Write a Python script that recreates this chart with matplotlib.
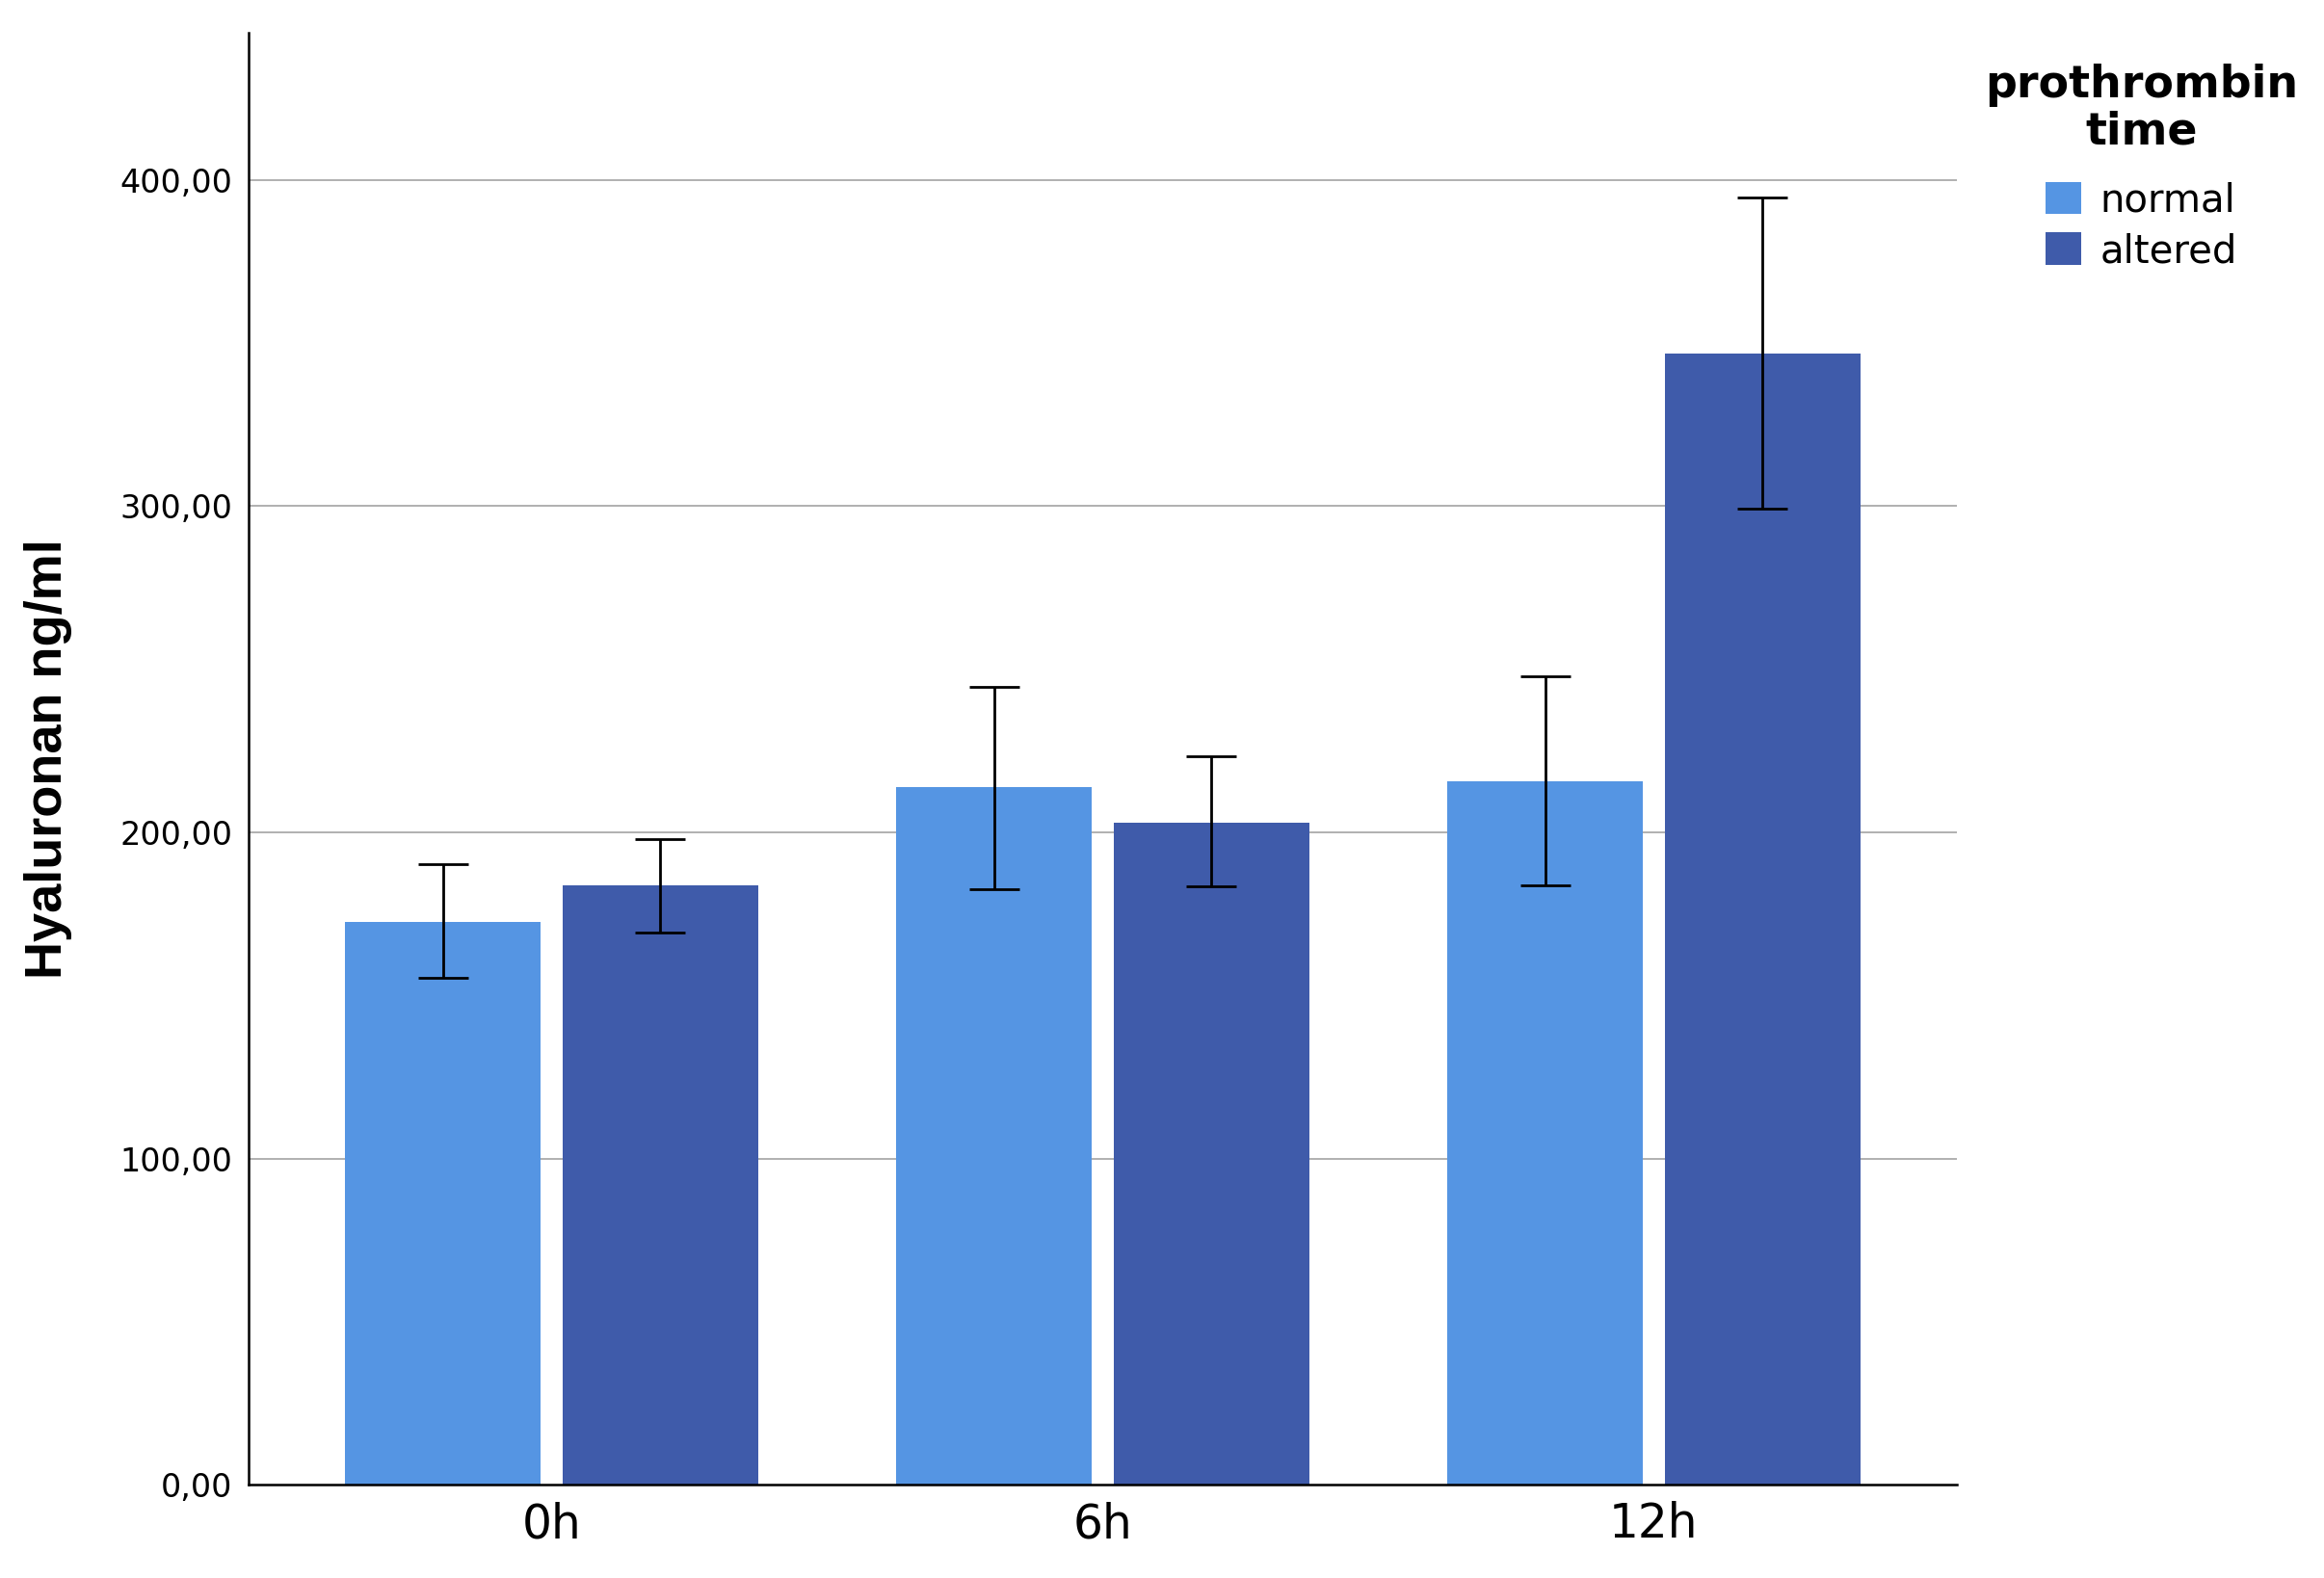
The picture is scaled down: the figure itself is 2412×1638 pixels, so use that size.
import numpy as np
import matplotlib
matplotlib.use('Agg')
import matplotlib.pyplot as plt

# data
groups = ['0h', '6h', '12h']
series = ['normal', 'altered']
normal_mean = [172.5, 213.8, 215.7]
normal_lo = [155.3, 182.5, 183.9]
normal_hi = [190.2, 244.7, 247.9]
altered_mean = [183.9, 203.0, 346.9]
altered_lo = [169.4, 183.4, 299.2]
altered_hi = [198.0, 223.4, 394.5]
yticks = [0, 100, 200, 300, 400]
ytick_labels = ['0,00', '100,00', '200,00', '300,00', '400,00']

colors = ['#5595E3', '#3F5BAA']


def bars_with_err(ax, x, mean, lo, hi, color, label):
    mean = np.array(mean)
    err = np.vstack([mean - np.array(lo), np.array(hi) - mean])
    ax.bar(x, mean, width=0.355, color=color, label=label, zorder=2)
    ax.errorbar(x, mean, yerr=err, fmt='none', ecolor='black',
                elinewidth=2.0, capsize=19, capthick=2.0, zorder=3)


fig = plt.figure(figsize=(24.12, 16.38), dpi=100)
ax = fig.add_axes([0.107, 0.059, 0.735, 0.920])

x = np.arange(len(groups))
bars_with_err(ax, x - 0.197, normal_mean, normal_lo, normal_hi, colors[0], series[0])
bars_with_err(ax, x + 0.197, altered_mean, altered_lo, altered_hi, colors[1], series[1])

ax.set_xlim(-0.55, 2.55)
ax.set_ylim(0, 445)
ax.set_yticks(yticks)
ax.set_yticklabels(ytick_labels, fontsize=24, family='DejaVu Sans')
ax.set_xticks(x)
ax.set_xticklabels(groups, fontsize=35, family='DejaVu Sans')
ax.tick_params(axis='y', length=0, pad=12)
ax.tick_params(axis='x', length=0, pad=12)

for y in yticks[1:]:
    ax.axhline(y, color='#B0B0B0', lw=1.4, zorder=1)

for s in ['top', 'right']:
    ax.spines[s].set_visible(False)
for s in ['left', 'bottom']:
    ax.spines[s].set_linewidth(1.8)

ax.set_ylabel('Hyaluronan ng/ml', fontsize=39, fontweight='bold',
              family='Liberation Sans')
ax.yaxis.set_label_coords(-0.103, 0.5)

# legend: title drawn separately so its gap to the entries can be set
fig.text(0.9216, 0.960, 'prothrombin\ntime', ha='center', va='top',
         multialignment='center', fontsize=33, fontweight='bold',
         linespacing=1.1)
leg = ax.legend(loc='upper left', bbox_to_anchor=(0.880, 0.885),
                bbox_transform=fig.transFigure, frameon=False,
                fontsize=29, borderpad=0, borderaxespad=0,
                handlelength=0.92, handleheight=0.92, handletextpad=0.5,
                labelspacing=0.32)

plt.savefig('out.png', dpi=100)
